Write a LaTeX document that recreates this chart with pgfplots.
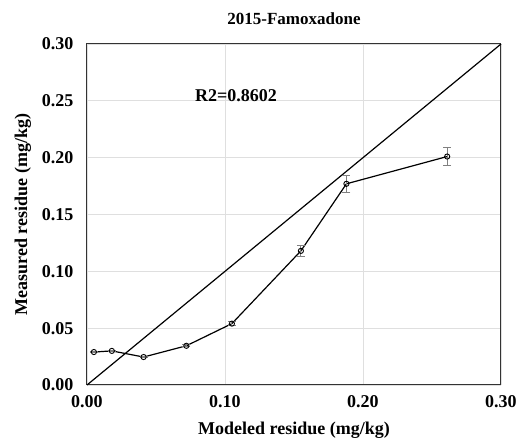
\documentclass[border=0pt]{standalone}
\usepackage{fontspec}
\setmainfont{Liberation Serif}
\usepackage{pgfplots}
\pgfplotsset{compat=1.18}

\begin{document}
\begin{tikzpicture}[x=1pt,y=1pt]
\path[use as bounding box] (-87,-62) rectangle (430,385);
\begin{axis}[
  at={(0,0)}, anchor=south west,
  width=414pt, height=341pt, scale only axis,
  xmin=0, xmax=0.3, ymin=0, ymax=0.3,
  xtick={0,0.1,0.2,0.3}, ytick={0,0.05,0.1,0.15,0.2,0.25,0.3},
  xticklabel style={yshift=-7pt, /pgf/number format/.cd, fixed, fixed zerofill, precision=2},
  yticklabel style={xshift=-10pt, /pgf/number format/.cd, fixed, fixed zerofill, precision=2},
  /pgf/number format/assume math mode=true,
  ticklabel style={font=\fontsize{18}{20}\selectfont\bfseries},
  major tick length=0pt,
  grid=major, grid style={gray!25, line width=0.8pt},
  axis line style={black!80, line width=1pt},
  title={2015-Famoxadone}, title style={font=\fontsize{17}{19}\selectfont\bfseries, yshift=10pt},
  xlabel={Modeled residue (mg/kg)}, ylabel={Measured residue (mg/kg)},
  label style={font=\fontsize{18}{20}\selectfont\bfseries},
  xlabel style={yshift=-7pt}, ylabel style={yshift=4pt},
  clip=false,
]
\addplot[black, line width=1.2pt] coordinates {(0,0) (0.3,0.3)};
\addplot[black, line width=1.2pt, mark=o, mark size=2.6pt,
  mark options={fill=white, line width=0.9pt},
  error bars/.cd, y dir=both, y explicit,
  error bar style={gray, line width=0.8pt},
  error mark options={rotate=90, mark size=4pt, gray, line width=0.8pt}]
  coordinates {
  (0.005,0.0290) +- (0,0.0005)
  (0.018,0.0300) +- (0,0.0005)
  (0.041,0.0246) +- (0,0.0005)
  (0.072,0.0345) +- (0,0.0008)
  (0.105,0.0540) +- (0,0.0020)
  (0.155,0.1180) +- (0,0.0050)
  (0.188,0.1770) +- (0,0.0072)
  (0.261,0.2010) +- (0,0.0080)
  };
\node[font=\fontsize{18}{20}\selectfont\bfseries] at (axis cs:0.108,0.255) {R2=0.8602};
\end{axis}
\end{tikzpicture}
\end{document}
